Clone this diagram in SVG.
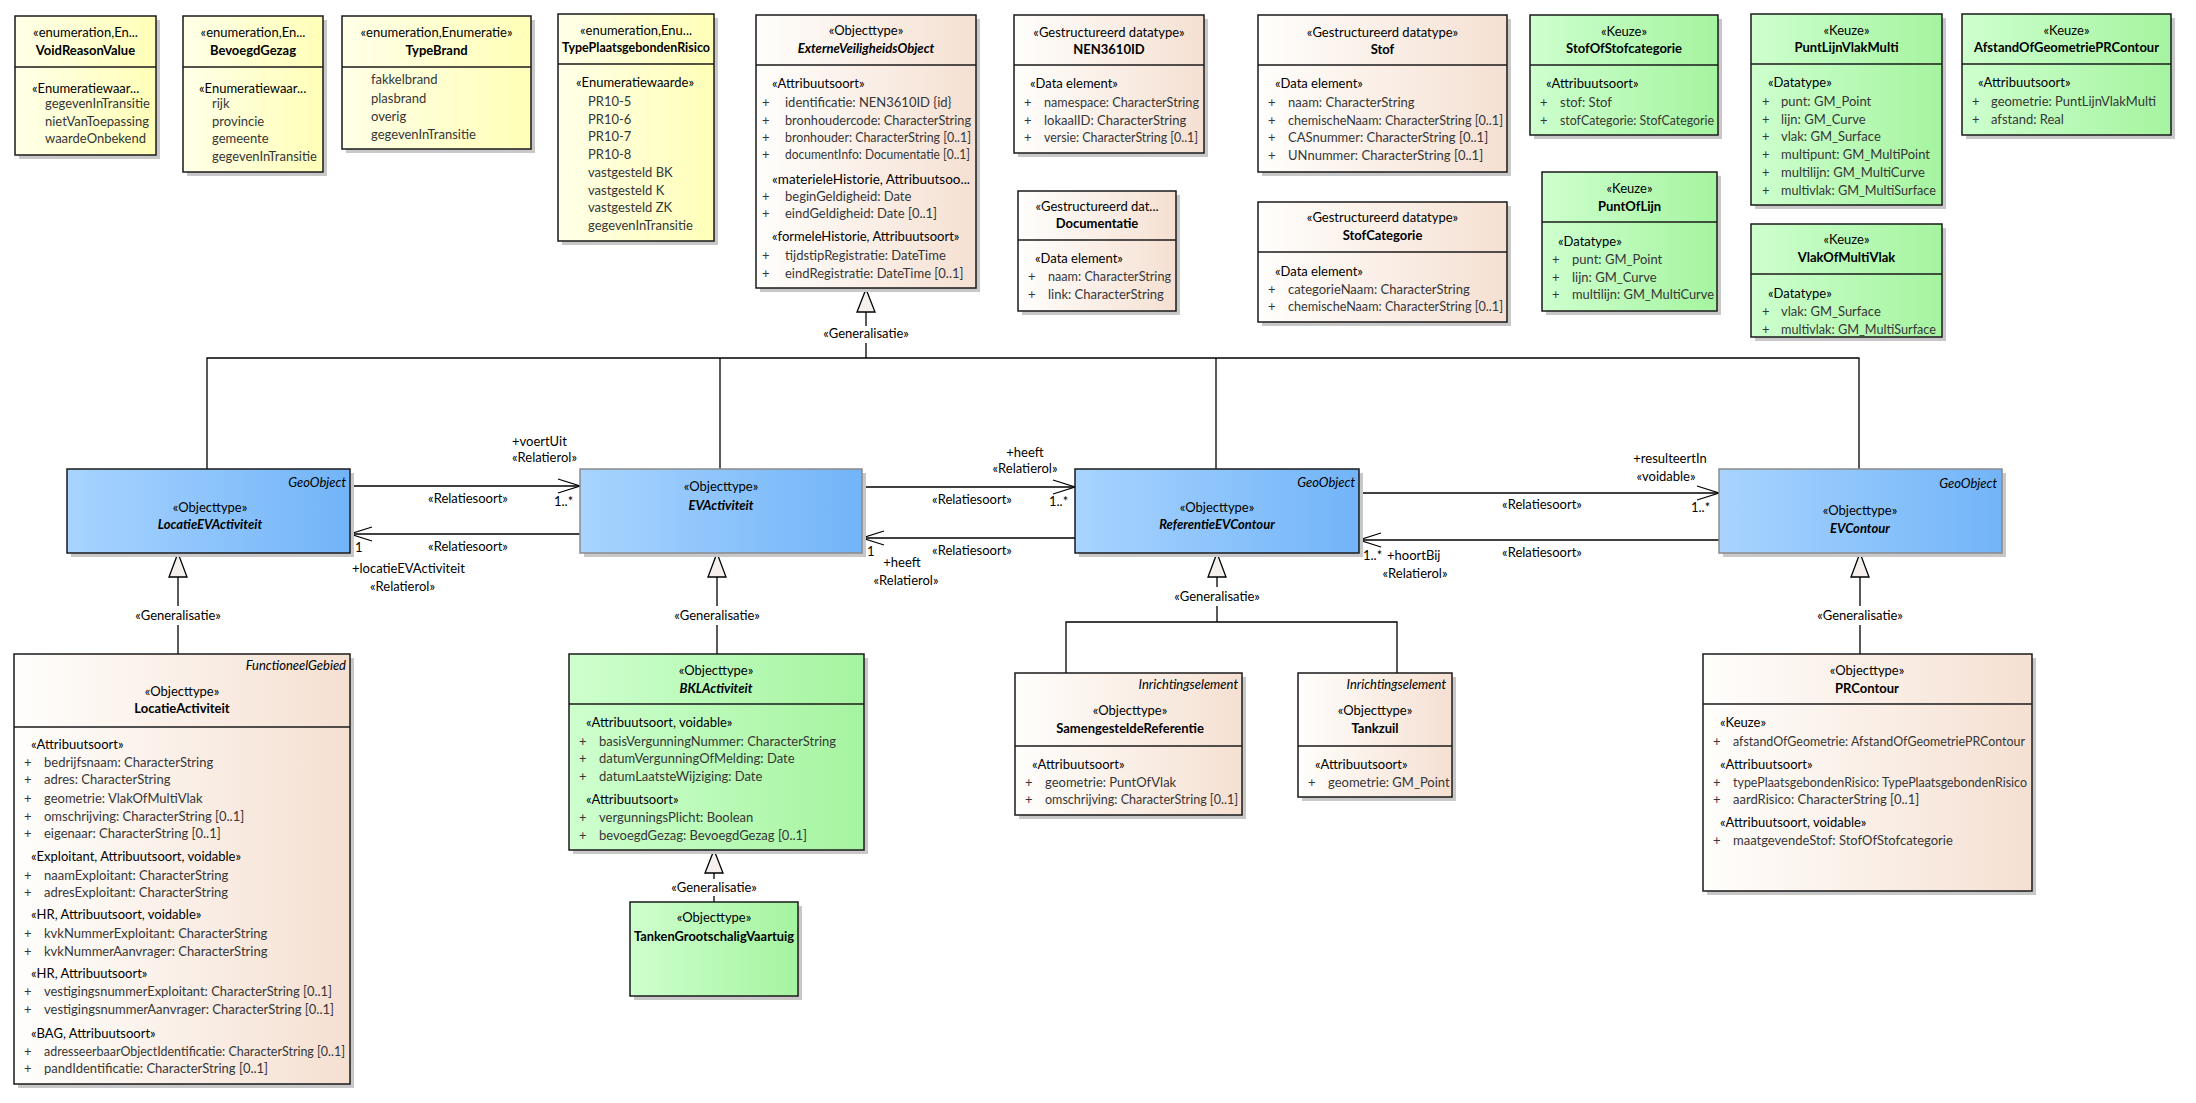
<svg xmlns="http://www.w3.org/2000/svg" width="2196" height="1103" viewBox="0 0 2196 1103">
<defs>
<linearGradient id="gY" x1="0" x2="1" y1="0" y2="0"><stop offset="0" stop-color="#FFFFE8"/><stop offset="1" stop-color="#FFFFB8"/></linearGradient>
<linearGradient id="gP" x1="0" x2="1" y1="0" y2="0"><stop offset="0" stop-color="#FFFEFC"/><stop offset="1" stop-color="#F5E0D2"/></linearGradient>
<linearGradient id="gG" x1="0" x2="1" y1="0" y2="0"><stop offset="0" stop-color="#CEFFCE"/><stop offset="1" stop-color="#A5F4A0"/></linearGradient>
<linearGradient id="gB" x1="0" x2="1" y1="0" y2="0"><stop offset="0" stop-color="#A8D4FF"/><stop offset="1" stop-color="#72B4F8"/></linearGradient>
</defs>
<style>
text{font-family:Lato,"Liberation Sans",sans-serif;font-size:13px;fill:#000}
.c{text-anchor:middle}
.b{font-weight:bold}
.bi{font-weight:bold;font-style:italic}
.i{font-style:italic}
.r{text-anchor:end}
.a{fill:#363636}
.bx{stroke:#1a1a1a;stroke-width:1.5}
.bg{stroke:#8a8a8a;stroke-width:1.5}
.sh{fill:#c8c8c8}
.ln{stroke:#000;stroke-width:1.3;fill:none}
.dv{stroke:#1a1a1a;stroke-width:1.3}
.tri{fill:#f5f0ee;stroke:#000;stroke-width:1.3}
</style>
<rect width="2196" height="1103" fill="#fff"/>

<g id="connectors">
<polyline class="ln" points="207,469 207,358 1859,358 1859,469"/>
<line class="ln" x1="720" y1="358" x2="720" y2="469"/>
<line class="ln" x1="1216" y1="358" x2="1216" y2="469"/>
<line class="ln" x1="866" y1="358" x2="866" y2="343"/>
<line class="ln" x1="866" y1="326" x2="866" y2="312"/>
<polygon class="tri" points="866,289 857,312 875,312"/>
<text class="c" x="866" y="338">«Generalisatie»</text>
<line class="ln" x1="350" y1="486" x2="580" y2="486"/>
<polyline class="ln" points="558,479 580,486 558,493"/>
<line class="ln" x1="580" y1="534" x2="350" y2="534"/>
<polyline class="ln" points="372,527 350,534 372,541"/>
<text x="512" y="446">+voertUit</text>
<text x="512" y="462">«Relatierol»</text>
<text class="c" x="468" y="503">«Relatiesoort»</text>
<text x="554" y="506">1..*</text>
<text class="c" x="468" y="551">«Relatiesoort»</text>
<text x="355" y="552">1</text>
<text x="352" y="573">+locatieEVActiviteit</text>
<text x="370" y="591">«Relatierol»</text>
<line class="ln" x1="862" y1="487" x2="1075" y2="487"/>
<polyline class="ln" points="1053,480 1075,487 1053,494"/>
<line class="ln" x1="1075" y1="538" x2="862" y2="538"/>
<polyline class="ln" points="884,531 862,538 884,545"/>
<text class="c" x="1025" y="457">+heeft</text>
<text class="c" x="1025" y="473">«Relatierol»</text>
<text class="c" x="972" y="504">«Relatiesoort»</text>
<text x="1049" y="506">1..*</text>
<text class="c" x="972" y="555">«Relatiesoort»</text>
<text x="867" y="556">1</text>
<text class="c" x="902" y="567">+heeft</text>
<text class="c" x="906" y="585">«Relatierol»</text>
<line class="ln" x1="1359" y1="493" x2="1719" y2="493"/>
<polyline class="ln" points="1697,486 1719,493 1697,500"/>
<line class="ln" x1="1719" y1="540" x2="1359" y2="540"/>
<polyline class="ln" points="1381,533 1359,540 1381,547"/>
<text class="c" x="1670" y="463">+resulteertIn</text>
<text class="c" x="1666" y="481">«voidable»</text>
<text class="c" x="1542" y="509">«Relatiesoort»</text>
<text x="1691" y="512">1..*</text>
<text class="c" x="1542" y="557">«Relatiesoort»</text>
<text x="1363" y="560">1..*</text>
<text x="1387" y="560">+hoortBij</text>
<text class="c" x="1415" y="578">«Relatierol»</text>
<polygon class="tri" points="178,553 169,577 187,577"/>
<line class="ln" x1="178" y1="577" x2="178" y2="606"/>
<line class="ln" x1="178" y1="625" x2="178" y2="654"/>
<text class="c" x="178" y="620">«Generalisatie»</text>
<polygon class="tri" points="717,553 708,577 726,577"/>
<line class="ln" x1="717" y1="577" x2="717" y2="606"/>
<line class="ln" x1="717" y1="625" x2="717" y2="654"/>
<text class="c" x="717" y="620">«Generalisatie»</text>
<polygon class="tri" points="714,850 705,873 723,873"/>
<line class="ln" x1="714" y1="873" x2="714" y2="879"/>
<line class="ln" x1="714" y1="896" x2="714" y2="902"/>
<text class="c" x="714" y="892">«Generalisatie»</text>
<polygon class="tri" points="1217,553 1208,577 1226,577"/>
<line class="ln" x1="1217" y1="577" x2="1217" y2="587"/>
<line class="ln" x1="1217" y1="606" x2="1217" y2="622"/>
<polyline class="ln" points="1066,673 1066,622 1397,622 1397,673"/>
<text class="c" x="1217" y="601">«Generalisatie»</text>
<polygon class="tri" points="1860,553 1851,577 1869,577"/>
<line class="ln" x1="1860" y1="577" x2="1860" y2="606"/>
<line class="ln" x1="1860" y1="625" x2="1860" y2="654"/>
<text class="c" x="1860" y="620">«Generalisatie»</text>
</g>

<g id="VoidReasonValue">
<rect class="sh" x="19" y="20" width="141" height="139"/>
<rect class="bx" x="15" y="16" width="141" height="139" fill="url(#gY)"/>
<line class="dv" x1="15" y1="67" x2="156" y2="67"/>
<text class="c" x="85.5" y="37">«enumeration,En...</text>
<text class="c b" x="85.5" y="55">VoidReasonValue</text>
<text x="32" y="93">«Enumeratiewaar...</text>
<text class="a" x="45" y="108">gegevenInTransitie</text>
<text class="a" x="45" y="126">nietVanToepassing</text>
<text class="a" x="45" y="143">waardeOnbekend</text>
</g>

<g id="BevoegdGezag">
<rect class="sh" x="187" y="20" width="140" height="156"/>
<rect class="bx" x="183" y="16" width="140" height="156" fill="url(#gY)"/>
<line class="dv" x1="183" y1="67" x2="323" y2="67"/>
<text class="c" x="253" y="37">«enumeration,En...</text>
<text class="c b" x="253" y="55">BevoegdGezag</text>
<text x="199" y="93">«Enumeratiewaar...</text>
<text class="a" x="212" y="108">rijk</text>
<text class="a" x="212" y="126">provincie</text>
<text class="a" x="212" y="143">gemeente</text>
<text class="a" x="212" y="161">gegevenInTransitie</text>
</g>

<g id="TypeBrand">
<rect class="sh" x="346" y="20" width="189" height="133"/>
<rect class="bx" x="342" y="16" width="189" height="133" fill="url(#gY)"/>
<line class="dv" x1="342" y1="67" x2="531" y2="67"/>
<text class="c" x="436.5" y="37">«enumeration,Enumeratie»</text>
<text class="c b" x="436.5" y="55">TypeBrand</text>
<text class="a" x="371" y="84">fakkelbrand</text>
<text class="a" x="371" y="103">plasbrand</text>
<text class="a" x="371" y="121">overig</text>
<text class="a" x="371" y="139">gegevenInTransitie</text>
</g>

<g id="TypePlaatsgebondenRisico">
<rect class="sh" x="562" y="18" width="156" height="227"/>
<rect class="bx" x="558" y="14" width="156" height="227" fill="url(#gY)"/>
<line class="dv" x1="558" y1="64" x2="714" y2="64"/>
<text class="c" x="636" y="35">«enumeration,Enu...</text>
<text class="c b" x="636" y="52" textLength="148" lengthAdjust="spacingAndGlyphs">TypePlaatsgebondenRisico</text>
<text x="576" y="87">«Enumeratiewaarde»</text>
<text class="a" x="588" y="106">PR10-5</text>
<text class="a" x="588" y="124">PR10-6</text>
<text class="a" x="588" y="141">PR10-7</text>
<text class="a" x="588" y="159">PR10-8</text>
<text class="a" x="588" y="177">vastgesteld BK</text>
<text class="a" x="588" y="195">vastgesteld K</text>
<text class="a" x="588" y="212">vastgesteld ZK</text>
<text class="a" x="588" y="230">gegevenInTransitie</text>
</g>

<g id="ExterneVeiligheidsObject">
<rect class="sh" x="760" y="19" width="220" height="273"/>
<rect class="bx" x="756" y="15" width="220" height="273" fill="url(#gP)"/>
<line class="dv" x1="756" y1="65" x2="976" y2="65"/>
<text class="c" x="866" y="35">«Objecttype»</text>
<text class="c bi" x="866" y="53">ExterneVeiligheidsObject</text>
<text x="772" y="88">«Attribuutsoort»</text>
<text class="a" x="762" y="107">+</text><text class="a" x="785" y="107">identificatie: NEN3610ID {id}</text>
<text class="a" x="762" y="125">+</text><text class="a" x="785" y="125" textLength="186" lengthAdjust="spacingAndGlyphs">bronhoudercode: CharacterString</text>
<text class="a" x="762" y="142">+</text><text class="a" x="785" y="142" textLength="186" lengthAdjust="spacingAndGlyphs">bronhouder: CharacterString [0..1]</text>
<text class="a" x="762" y="159">+</text><text class="a" x="785" y="159" textLength="185" lengthAdjust="spacingAndGlyphs">documentInfo: Documentatie [0..1]</text>
<text x="772" y="184" textLength="198" lengthAdjust="spacingAndGlyphs">«materieleHistorie, Attribuutsoo...</text>
<text class="a" x="762" y="201">+</text><text class="a" x="785" y="201">beginGeldigheid: Date</text>
<text class="a" x="762" y="218">+</text><text class="a" x="785" y="218">eindGeldigheid: Date [0..1]</text>
<text x="772" y="241">«formeleHistorie, Attribuutsoort»</text>
<text class="a" x="762" y="260">+</text><text class="a" x="785" y="260">tijdstipRegistratie: DateTime</text>
<text class="a" x="762" y="278">+</text><text class="a" x="785" y="278">eindRegistratie: DateTime [0..1]</text>
</g>

<g id="NEN3610ID">
<rect class="sh" x="1018" y="19" width="190" height="138"/>
<rect class="bx" x="1014" y="15" width="190" height="138" fill="url(#gP)"/>
<line class="dv" x1="1014" y1="65" x2="1204" y2="65"/>
<text class="c" x="1109" y="37">«Gestructureerd datatype»</text>
<text class="c b" x="1109" y="54">NEN3610ID</text>
<text x="1030" y="88">«Data element»</text>
<text class="a" x="1024" y="107">+</text><text class="a" x="1044" y="107" textLength="155" lengthAdjust="spacingAndGlyphs">namespace: CharacterString</text>
<text class="a" x="1024" y="125">+</text><text class="a" x="1044" y="125">lokaalID: CharacterString</text>
<text class="a" x="1024" y="142">+</text><text class="a" x="1044" y="142" textLength="154" lengthAdjust="spacingAndGlyphs">versie: CharacterString [0..1]</text>
</g>

<g id="Documentatie">
<rect class="sh" x="1022" y="195" width="158" height="120"/>
<rect class="bx" x="1018" y="191" width="158" height="120" fill="url(#gP)"/>
<line class="dv" x1="1018" y1="240" x2="1176" y2="240"/>
<text class="c" x="1097" y="211">«Gestructureerd dat...</text>
<text class="c b" x="1097" y="228">Documentatie</text>
<text x="1035" y="263">«Data element»</text>
<text class="a" x="1028" y="281">+</text><text class="a" x="1048" y="281" textLength="123" lengthAdjust="spacingAndGlyphs">naam: CharacterString</text>
<text class="a" x="1028" y="299">+</text><text class="a" x="1048" y="299">link: CharacterString</text>
</g>

<g id="Stof">
<rect class="sh" x="1262" y="19" width="249" height="157"/>
<rect class="bx" x="1258" y="15" width="249" height="157" fill="url(#gP)"/>
<line class="dv" x1="1258" y1="65" x2="1507" y2="65"/>
<text class="c" x="1382.5" y="37">«Gestructureerd datatype»</text>
<text class="c b" x="1382.5" y="54">Stof</text>
<text x="1275" y="88">«Data element»</text>
<text class="a" x="1268" y="107">+</text><text class="a" x="1288" y="107">naam: CharacterString</text>
<text class="a" x="1268" y="125">+</text><text class="a" x="1288" y="125" textLength="215" lengthAdjust="spacingAndGlyphs">chemischeNaam: CharacterString [0..1]</text>
<text class="a" x="1268" y="142">+</text><text class="a" x="1288" y="142">CASnummer: CharacterString [0..1]</text>
<text class="a" x="1268" y="160">+</text><text class="a" x="1288" y="160">UNnummer: CharacterString [0..1]</text>
</g>

<g id="StofCategorie">
<rect class="sh" x="1262" y="206" width="249" height="120"/>
<rect class="bx" x="1258" y="202" width="249" height="120" fill="url(#gP)"/>
<line class="dv" x1="1258" y1="252" x2="1507" y2="252"/>
<text class="c" x="1382.5" y="222">«Gestructureerd datatype»</text>
<text class="c b" x="1382.5" y="240">StofCategorie</text>
<text x="1275" y="276">«Data element»</text>
<text class="a" x="1268" y="294">+</text><text class="a" x="1288" y="294">categorieNaam: CharacterString</text>
<text class="a" x="1268" y="311">+</text><text class="a" x="1288" y="311" textLength="215" lengthAdjust="spacingAndGlyphs">chemischeNaam: CharacterString [0..1]</text>
</g>

<g id="StofOfStofcategorie">
<rect class="sh" x="1534" y="19" width="188" height="120"/>
<rect class="bx" x="1530" y="15" width="188" height="120" fill="url(#gG)"/>
<line class="dv" x1="1530" y1="65" x2="1718" y2="65"/>
<text class="c" x="1624" y="36">«Keuze»</text>
<text class="c b" x="1624" y="53">StofOfStofcategorie</text>
<text x="1546" y="88">«Attribuutsoort»</text>
<text class="a" x="1540" y="107">+</text><text class="a" x="1560" y="107">stof: Stof</text>
<text class="a" x="1540" y="125">+</text><text class="a" x="1560" y="125" textLength="154" lengthAdjust="spacingAndGlyphs">stofCategorie: StofCategorie</text>
</g>

<g id="PuntOfLijn">
<rect class="sh" x="1546" y="176" width="175" height="139"/>
<rect class="bx" x="1542" y="172" width="175" height="139" fill="url(#gG)"/>
<line class="dv" x1="1542" y1="222" x2="1717" y2="222"/>
<text class="c" x="1629.5" y="193">«Keuze»</text>
<text class="c b" x="1629.5" y="211">PuntOfLijn</text>
<text x="1558" y="246">«Datatype»</text>
<text class="a" x="1552" y="264">+</text><text class="a" x="1572" y="264">punt: GM_Point</text>
<text class="a" x="1552" y="282">+</text><text class="a" x="1572" y="282">lijn: GM_Curve</text>
<text class="a" x="1552" y="299">+</text><text class="a" x="1572" y="299" textLength="142" lengthAdjust="spacingAndGlyphs">multilijn: GM_MultiCurve</text>
</g>

<g id="PuntLijnVlakMulti">
<rect class="sh" x="1755" y="18" width="191" height="191"/>
<rect class="bx" x="1751" y="14" width="191" height="191" fill="url(#gG)"/>
<line class="dv" x1="1751" y1="64" x2="1942" y2="64"/>
<text class="c" x="1846.5" y="35">«Keuze»</text>
<text class="c b" x="1846.5" y="52">PuntLijnVlakMulti</text>
<text x="1768" y="87">«Datatype»</text>
<text class="a" x="1762" y="106">+</text><text class="a" x="1781" y="106">punt: GM_Point</text>
<text class="a" x="1762" y="124">+</text><text class="a" x="1781" y="124">lijn: GM_Curve</text>
<text class="a" x="1762" y="141">+</text><text class="a" x="1781" y="141">vlak: GM_Surface</text>
<text class="a" x="1762" y="159">+</text><text class="a" x="1781" y="159" textLength="149" lengthAdjust="spacingAndGlyphs">multipunt: GM_MultiPoint</text>
<text class="a" x="1762" y="177">+</text><text class="a" x="1781" y="177">multilijn: GM_MultiCurve</text>
<text class="a" x="1762" y="195">+</text><text class="a" x="1781" y="195" textLength="155" lengthAdjust="spacingAndGlyphs">multivlak: GM_MultiSurface</text>
</g>

<g id="VlakOfMultiVlak">
<rect class="sh" x="1755" y="228" width="191" height="113"/>
<rect class="bx" x="1751" y="224" width="191" height="113" fill="url(#gG)"/>
<line class="dv" x1="1751" y1="274" x2="1942" y2="274"/>
<text class="c" x="1846.5" y="244">«Keuze»</text>
<text class="c b" x="1846.5" y="262">VlakOfMultiVlak</text>
<text x="1768" y="298">«Datatype»</text>
<text class="a" x="1762" y="316">+</text><text class="a" x="1781" y="316">vlak: GM_Surface</text>
<text class="a" x="1762" y="334">+</text><text class="a" x="1781" y="334" textLength="155" lengthAdjust="spacingAndGlyphs">multivlak: GM_MultiSurface</text>
</g>

<g id="AfstandOfGeometriePRContour">
<rect class="sh" x="1966" y="18" width="209" height="121"/>
<rect class="bx" x="1962" y="14" width="209" height="121" fill="url(#gG)"/>
<line class="dv" x1="1962" y1="64" x2="2171" y2="64"/>
<text class="c" x="2066.5" y="35">«Keuze»</text>
<text class="c b" x="2066.5" y="52" textLength="185" lengthAdjust="spacingAndGlyphs">AfstandOfGeometriePRContour</text>
<text x="1978" y="87">«Attribuutsoort»</text>
<text class="a" x="1972" y="106">+</text><text class="a" x="1991" y="106" textLength="165" lengthAdjust="spacingAndGlyphs">geometrie: PuntLijnVlakMulti</text>
<text class="a" x="1972" y="124">+</text><text class="a" x="1991" y="124">afstand: Real</text>
</g>

<g id="LocatieEVActiviteit">
<rect class="sh" x="71" y="473" width="283" height="84"/>
<rect class="bx" x="67" y="469" width="283" height="84" fill="url(#gB)"/>
<text class="i r" x="346" y="487">GeoObject</text>
<text class="c" x="210" y="512">«Objecttype»</text>
<text class="c bi" x="210" y="529">LocatieEVActiviteit</text>
</g>

<g id="EVActiviteit">
<rect class="sh" x="584" y="473" width="282" height="84"/>
<rect class="bg" x="580" y="469" width="282" height="84" fill="url(#gB)"/>
<text class="c" x="721" y="491">«Objecttype»</text>
<text class="c bi" x="721" y="510">EVActiviteit</text>
</g>

<g id="ReferentieEVContour">
<rect class="sh" x="1079" y="473" width="284" height="84"/>
<rect class="bx" x="1075" y="469" width="284" height="84" fill="url(#gB)"/>
<text class="i r" x="1355" y="487">GeoObject</text>
<text class="c" x="1217" y="512">«Objecttype»</text>
<text class="c bi" x="1217" y="529">ReferentieEVContour</text>
</g>

<g id="EVContour">
<rect class="sh" x="1723" y="473" width="283" height="84"/>
<rect class="bg" x="1719" y="469" width="283" height="84" fill="url(#gB)"/>
<text class="i r" x="1997" y="488">GeoObject</text>
<text class="c" x="1860" y="515">«Objecttype»</text>
<text class="c bi" x="1860" y="533">EVContour</text>
</g>

<g id="LocatieActiviteit">
<rect class="sh" x="18" y="658" width="336" height="430"/>
<rect class="bx" x="14" y="654" width="336" height="430" fill="url(#gP)"/>
<line class="dv" x1="14" y1="727" x2="350" y2="727"/>
<text class="i r" x="346" y="670">FunctioneelGebied</text>
<text class="c" x="182" y="696">«Objecttype»</text>
<text class="c b" x="182" y="713">LocatieActiviteit</text>
<text x="31" y="749">«Attribuutsoort»</text>
<text class="a" x="24" y="767">+</text><text class="a" x="44" y="767">bedrijfsnaam: CharacterString</text>
<text class="a" x="24" y="784">+</text><text class="a" x="44" y="784">adres: CharacterString</text>
<text class="a" x="24" y="803">+</text><text class="a" x="44" y="803">geometrie: VlakOfMultiVlak</text>
<text class="a" x="24" y="821">+</text><text class="a" x="44" y="821">omschrijving: CharacterString [0..1]</text>
<text class="a" x="24" y="838">+</text><text class="a" x="44" y="838">eigenaar: CharacterString [0..1]</text>
<text x="31" y="861">«Exploitant, Attribuutsoort, voidable»</text>
<text class="a" x="24" y="880">+</text><text class="a" x="44" y="880">naamExploitant: CharacterString</text>
<text class="a" x="24" y="897">+</text><text class="a" x="44" y="897">adresExploitant: CharacterString</text>
<text x="31" y="919">«HR, Attribuutsoort, voidable»</text>
<text class="a" x="24" y="938">+</text><text class="a" x="44" y="938">kvkNummerExploitant: CharacterString</text>
<text class="a" x="24" y="956">+</text><text class="a" x="44" y="956">kvkNummerAanvrager: CharacterString</text>
<text x="31" y="978">«HR, Attribuutsoort»</text>
<text class="a" x="24" y="996">+</text><text class="a" x="44" y="996" textLength="288" lengthAdjust="spacingAndGlyphs">vestigingsnummerExploitant: CharacterString [0..1]</text>
<text class="a" x="24" y="1014">+</text><text class="a" x="44" y="1014" textLength="290" lengthAdjust="spacingAndGlyphs">vestigingsnummerAanvrager: CharacterString [0..1]</text>
<text x="31" y="1038">«BAG, Attribuutsoort»</text>
<text class="a" x="24" y="1056">+</text><text class="a" x="44" y="1056" textLength="301" lengthAdjust="spacingAndGlyphs">adresseerbaarObjectIdentificatie: CharacterString [0..1]</text>
<text class="a" x="24" y="1073">+</text><text class="a" x="44" y="1073">pandIdentificatie: CharacterString [0..1]</text>
</g>

<g id="BKLActiviteit">
<rect class="sh" x="573" y="658" width="295" height="196"/>
<rect class="bx" x="569" y="654" width="295" height="196" fill="url(#gG)"/>
<line class="dv" x1="569" y1="704" x2="864" y2="704"/>
<text class="c" x="716" y="675">«Objecttype»</text>
<text class="c bi" x="716" y="693">BKLActiviteit</text>
<text x="586" y="727">«Attribuutsoort, voidable»</text>
<text class="a" x="579" y="746">+</text><text class="a" x="599" y="746" textLength="237" lengthAdjust="spacingAndGlyphs">basisVergunningNummer: CharacterString</text>
<text class="a" x="579" y="763">+</text><text class="a" x="599" y="763">datumVergunningOfMelding: Date</text>
<text class="a" x="579" y="781">+</text><text class="a" x="599" y="781">datumLaatsteWijziging: Date</text>
<text x="586" y="804">«Attribuutsoort»</text>
<text class="a" x="579" y="822">+</text><text class="a" x="599" y="822">vergunningsPlicht: Boolean</text>
<text class="a" x="579" y="840">+</text><text class="a" x="599" y="840">bevoegdGezag: BevoegdGezag [0..1]</text>
</g>

<g id="TankenGrootschaligVaartuig">
<rect class="sh" x="634" y="906" width="168" height="94"/>
<rect class="bx" x="630" y="902" width="168" height="94" fill="url(#gG)"/>
<text class="c" x="714" y="922">«Objecttype»</text>
<text class="c b" x="714" y="941" textLength="160" lengthAdjust="spacingAndGlyphs">TankenGrootschaligVaartuig</text>
</g>

<g id="SamengesteldeReferentie">
<rect class="sh" x="1019" y="677" width="227" height="142"/>
<rect class="bx" x="1015" y="673" width="227" height="142" fill="url(#gP)"/>
<line class="dv" x1="1015" y1="746" x2="1242" y2="746"/>
<text class="i r" x="1238" y="689">Inrichtingselement</text>
<text class="c" x="1130" y="715">«Objecttype»</text>
<text class="c b" x="1130" y="733">SamengesteldeReferentie</text>
<text x="1032" y="769">«Attribuutsoort»</text>
<text class="a" x="1025" y="787">+</text><text class="a" x="1045" y="787">geometrie: PuntOfVlak</text>
<text class="a" x="1025" y="804">+</text><text class="a" x="1045" y="804" textLength="193" lengthAdjust="spacingAndGlyphs">omschrijving: CharacterString [0..1]</text>
</g>

<g id="Tankzuil">
<rect class="sh" x="1302" y="677" width="154" height="124"/>
<rect class="bx" x="1298" y="673" width="154" height="124" fill="url(#gP)"/>
<line class="dv" x1="1298" y1="746" x2="1452" y2="746"/>
<text class="i r" x="1446" y="689">Inrichtingselement</text>
<text class="c" x="1375" y="715">«Objecttype»</text>
<text class="c b" x="1375" y="733">Tankzuil</text>
<text x="1315" y="769">«Attribuutsoort»</text>
<text class="a" x="1308" y="787">+</text><text class="a" x="1328" y="787">geometrie: GM_Point</text>
</g>

<g id="PRContour">
<rect class="sh" x="1707" y="658" width="329" height="237"/>
<rect class="bx" x="1703" y="654" width="329" height="237" fill="url(#gP)"/>
<line class="dv" x1="1703" y1="704" x2="2032" y2="704"/>
<text class="c" x="1867" y="675">«Objecttype»</text>
<text class="c b" x="1867" y="693">PRContour</text>
<text x="1720" y="727">«Keuze»</text>
<text class="a" x="1713" y="746">+</text><text class="a" x="1733" y="746" textLength="292" lengthAdjust="spacingAndGlyphs">afstandOfGeometrie: AfstandOfGeometriePRContour</text>
<text x="1720" y="769">«Attribuutsoort»</text>
<text class="a" x="1713" y="787">+</text><text class="a" x="1733" y="787" textLength="294" lengthAdjust="spacingAndGlyphs">typePlaatsgebondenRisico: TypePlaatsgebondenRisico</text>
<text class="a" x="1713" y="804">+</text><text class="a" x="1733" y="804">aardRisico: CharacterString [0..1]</text>
<text x="1720" y="827">«Attribuutsoort, voidable»</text>
<text class="a" x="1713" y="845">+</text><text class="a" x="1733" y="845">maatgevendeStof: StofOfStofcategorie</text>
</g>
</svg>
